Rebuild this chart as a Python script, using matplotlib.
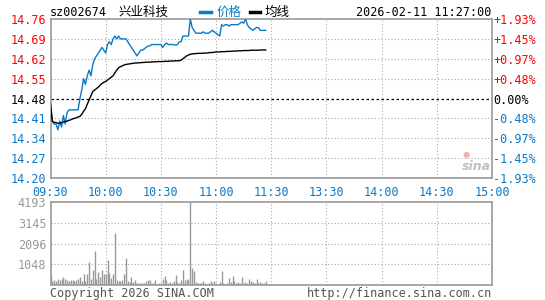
import matplotlib
matplotlib.use('Agg')
import matplotlib.pyplot as plt

# minutes since 09:30 (morning session, data up to 11:27)
price = [14.46, 14.40, 14.39, 14.39, 14.37, 14.40, 14.38, 14.42, 14.39, 14.43,
         14.44, 14.44, 14.44, 14.44, 14.44, 14.44, 14.48, 14.51, 14.55, 14.53,
         14.56, 14.58, 14.56, 14.60, 14.62, 14.63, 14.64, 14.65, 14.66, 14.65,
         14.64, 14.67, 14.68, 14.67, 14.69, 14.70, 14.69, 14.70, 14.69, 14.69,
         14.69, 14.69, 14.68, 14.67, 14.66, 14.65, 14.64, 14.63, 14.64, 14.65,
         14.65, 14.655, 14.66, 14.665, 14.665, 14.67, 14.67, 14.67, 14.67, 14.67,
         14.67, 14.66, 14.67, 14.675, 14.67, 14.67, 14.67, 14.67, 14.668, 14.67,
         14.68, 14.68, 14.70, 14.70, 14.70, 14.70, 14.76, 14.73, 14.72, 14.71,
         14.71, 14.71, 14.71, 14.715, 14.71, 14.71, 14.71, 14.715, 14.72, 14.715,
         14.71, 14.705, 14.70, 14.74, 14.735, 14.74, 14.74, 14.735, 14.74, 14.74,
         14.74, 14.74, 14.74, 14.745, 14.75, 14.745, 14.76, 14.74, 14.73, 14.725,
         14.72, 14.725, 14.73, 14.73, 14.72, 14.72, 14.72, 14.72]

avg_price = [14.46, 14.40, 14.396, 14.395, 14.393, 14.393, 14.395, 14.397, 14.399, 14.40,
             14.403, 14.405, 14.408, 14.41, 14.412, 14.415, 14.417, 14.425, 14.435, 14.444,
             14.46, 14.475, 14.49, 14.505, 14.51, 14.515, 14.52, 14.527, 14.533, 14.537,
             14.54, 14.545, 14.55, 14.555, 14.56, 14.57, 14.58, 14.588, 14.592, 14.595,
             14.598, 14.60, 14.601, 14.602, 14.603, 14.604, 14.605, 14.605, 14.606, 14.606,
             14.607, 14.607, 14.608, 14.608, 14.608, 14.609, 14.609, 14.609, 14.61, 14.61,
             14.61, 14.61, 14.611, 14.611, 14.611, 14.612, 14.612, 14.612, 14.613, 14.613,
             14.613, 14.615, 14.62, 14.625, 14.63, 14.633, 14.636, 14.637, 14.638, 14.638,
             14.639, 14.639, 14.639, 14.64, 14.64, 14.64, 14.641, 14.642, 14.642, 14.643,
             14.644, 14.644, 14.644, 14.645, 14.645, 14.645, 14.646, 14.646, 14.646, 14.647,
             14.647, 14.647, 14.648, 14.648, 14.648, 14.649, 14.649, 14.649, 14.649, 14.65,
             14.65, 14.65, 14.65, 14.65, 14.651, 14.651, 14.651, 14.651]

volume = [480, 200, 250, 200, 300, 250, 280, 390, 300, 270,
          220, 250, 250, 220, 230, 280, 390, 200, 540, 220,
          550, 1180, 320, 750, 1730, 290, 670, 420, 750, 580,
          580, 1260, 620, 340, 580, 2640, 250, 220, 200, 250,
          550, 1380, 200, 170, 420, 170, 250, 120, 90, 90,
          90, 120, 200, 250, 250, 120, 90, 250, 60, 90,
          90, 300, 450, 250, 120, 170, 90, 200, 500, 170,
          90, 250, 750, 250, 280, 250, 4193, 870, 720, 170,
          120, 90, 120, 200, 90, 60, 90, 200, 90, 200,
          90, 60, 170, 720, 90, 60, 90, 370, 170, 450,
          200, 90, 170, 90, 380, 90, 170, 90, 300, 200,
          170, 90, 300, 90, 170, 90, 90, 200]

prev_close = 14.48
price_ticks = [14.20, 14.27, 14.34, 14.41, 14.48, 14.55, 14.62, 14.69, 14.76]
pct_labels = ['-1.93%', '-1.45%', '-0.97%', '-0.48%', '0.00%',
              '+0.48%', '+0.97%', '+1.45%', '+1.93%']
time_ticks = [0, 30, 60, 90, 120, 150, 180, 210, 240]
time_labels = ['09:30', '10:00', '10:30', '11:00', '11:30', '13:30', '14:00', '14:30', '15:00']
vol_ticks = [1048, 2096, 3145, 4193]

RED = '#ff0000'
BLUE = '#0a7ac8'
GRAY = '#999999'
GRID = '#aaaaaa'
MONO = 'DejaVu Sans Mono'
CJK = ['Noto Sans CJK SC', 'DejaVu Sans']
FS = 8.5

W, H = 545, 300
fig = plt.figure(figsize=(W / 100, H / 100), dpi=100)


def box(x0, y0, x1, y1):
    return [x0 / W, 1 - y1 / H, (x1 - x0) / W, (y1 - y0) / H]


ax = fig.add_axes(box(50.5, 19, 492, 178))
axv = fig.add_axes(box(50.5, 202, 492, 285))

for a in (ax, axv):
    a.set_xlim(0, 240)
    for s in a.spines.values():
        s.set_color(GRAY)
        s.set_linewidth(1.2)
    a.tick_params(length=0)
    a.set_xticks(time_ticks[1:-1])
    for t in time_ticks[1:-1]:
        a.axvline(t, color=GRID, lw=0.8, ls=(0, (1, 2)), zorder=0)

# price panel
ax.set_ylim(price_ticks[0], price_ticks[-1])
for p in price_ticks[1:-1]:
    if abs(p - prev_close) < 1e-6:
        ax.axhline(p, color='black', lw=0.9, ls=(0, (2, 2)), zorder=1)
    else:
        ax.axhline(p, color=GRID, lw=0.8, ls=(0, (1, 2)), zorder=0)
mins = list(range(len(price)))
ax.plot(mins, price, color=BLUE, lw=1.0, zorder=3)
ax.plot(mins, avg_price, color='black', lw=1.0, zorder=3)

ax.set_yticks(price_ticks)
ax.set_yticklabels(['%.2f' % p for p in price_ticks], family=MONO, fontsize=FS)
for lbl, p in zip(ax.get_yticklabels(), price_ticks):
    lbl.set_color(RED if p > prev_close + 1e-6 else ('black' if abs(p - prev_close) < 1e-6 else BLUE))
ax.tick_params(axis='y', pad=3)

axr = ax.twinx()
axr.set_ylim(price_ticks[0], price_ticks[-1])
axr.set_yticks(price_ticks)
axr.set_yticklabels(pct_labels, family=MONO, fontsize=FS)
for lbl, s in zip(axr.get_yticklabels(), pct_labels):
    lbl.set_color(RED if s.startswith('+') else ('black' if s == '0.00%' else BLUE))
axr.tick_params(length=0, pad=1)
for s in axr.spines.values():
    s.set_visible(False)

ax.set_xticks(time_ticks)
ax.set_xticklabels(time_labels, family=MONO, fontsize=FS, color=BLUE)
ax.tick_params(axis='x', pad=5.5)

# volume panel
axv.set_ylim(0, vol_ticks[-1])
axv.vlines(mins, 0, volume, color=GRAY, lw=1.0, zorder=2)
for v in vol_ticks[:-1]:
    axv.axhline(v, color=GRID, lw=0.8, ls=(0, (1, 2)), zorder=0)
axv.set_yticks(vol_ticks)
axv.set_yticklabels([str(v) for v in vol_ticks], family=MONO, fontsize=FS, color=GRAY)
axv.set_xticklabels([])
axv.tick_params(axis='y', pad=3)

# header
fig.text(50 / W, 1 - 12 / H, 'sz002674', family=MONO, fontsize=FS, va='center', ha='left')
fig.text(143 / W, 1 - 12 / H, '兴业科技', family=CJK, fontsize=FS + 0.5, va='center', ha='center')
fig.lines.append(plt.Line2D([200 / W, 211 / W], [1 - 12 / H] * 2, color=BLUE, lw=2.5, transform=fig.transFigure))
fig.text(217 / W, 1 - 12 / H, '价格', family=CJK, fontsize=FS + 0.5, color=BLUE, va='center', ha='left')
fig.lines.append(plt.Line2D([250 / W, 260 / W], [1 - 12 / H] * 2, color='black', lw=2.5, transform=fig.transFigure))
fig.text(265 / W, 1 - 12 / H, '均线', family=CJK, fontsize=FS + 0.5, va='center', ha='left')
fig.text(491 / W, 1 - 12 / H, '2026-02-11 11:27:00', family=MONO, fontsize=FS, va='center', ha='right')

# footer
fig.text(50 / W, 1 - 293 / H, 'Copyright 2026 SINA.COM', family=MONO, fontsize=FS, color='#555555', va='center', ha='left')
fig.text(492 / W, 1 - 293 / H, 'http://finance.sina.com.cn', family=MONO, fontsize=FS, color='#555555', va='center', ha='right')

# watermark
fig.text(476 / W, 1 - 167 / H, 'sina', fontsize=9, style='italic', weight='bold', color='#c0c0c0', va='center', ha='center')
fig.text(466 / W, 1 - 154 / H, '\u25cf', fontsize=6, color='#f4b0b0', va='center', ha='center')

fig.savefig('out.png', dpi=100)
